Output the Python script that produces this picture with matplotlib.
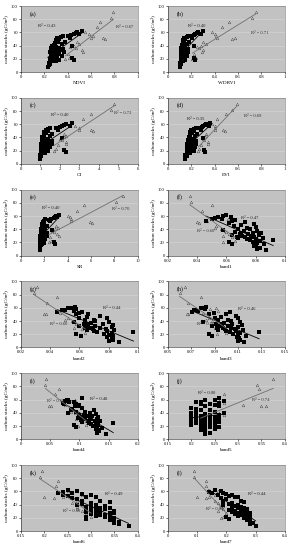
import numpy as np
import matplotlib
matplotlib.use("Agg")
import matplotlib.pyplot as plt

plt.rcParams['font.family'] = ['Liberation Serif', 'DejaVu Serif']

# carbon stocks (gC/m2), shared by all panels
black_y = [62, 60, 59, 58, 57, 56, 55, 54, 53, 52, 51, 50, 48, 46, 45, 44, 42, 41, 40, 39,
           38, 37, 36, 35, 35, 34, 33, 33, 32, 31, 30, 30, 29, 28, 28, 27, 26, 25, 25, 24,
           23, 22, 21, 20, 19, 18, 17, 16, 14, 12, 10, 8]
gray_y = [91, 82, 76, 68, 60, 58, 55, 52, 51, 50, 45, 42, 40, 38, 36, 33, 30, 28, 22, 20]

ndvi_b = [0.52, 0.48, 0.47, 0.50, 0.45, 0.43, 0.36, 0.40, 0.34, 0.42, 0.31, 0.33, 0.30, 0.32, 0.38, 0.29, 0.35, 0.28, 0.27, 0.44,
          0.30, 0.33, 0.26, 0.31, 0.36, 0.29, 0.34, 0.27, 0.32, 0.30, 0.25, 0.37, 0.28, 0.33, 0.26, 0.30, 0.27, 0.35, 0.29, 0.26,
          0.31, 0.28, 0.44, 0.25, 0.33, 0.45, 0.30, 0.27, 0.24, 0.25, 0.24, 0.23]
ndvi_g = [0.79, 0.77, 0.68, 0.65, 0.55, 0.58, 0.62, 0.60, 0.70, 0.72, 0.48, 0.50, 0.45, 0.42, 0.47, 0.52, 0.53, 0.40, 0.41, 0.38]

wdrvi_b = [0.30, 0.26, 0.25, 0.28, 0.23, 0.22, 0.17, 0.20, 0.16, 0.21, 0.14, 0.15, 0.13, 0.14, 0.18, 0.13, 0.16, 0.12, 0.12, 0.22,
           0.13, 0.15, 0.11, 0.14, 0.17, 0.13, 0.15, 0.12, 0.14, 0.13, 0.11, 0.17, 0.12, 0.15, 0.11, 0.13, 0.12, 0.16, 0.13, 0.11,
           0.14, 0.12, 0.22, 0.11, 0.15, 0.23, 0.13, 0.12, 0.10, 0.11, 0.10, 0.10]
wdrvi_g = [0.75, 0.72, 0.52, 0.46, 0.38, 0.40, 0.41, 0.42, 0.57, 0.55, 0.30, 0.33, 0.28, 0.25, 0.27, 0.30, 0.29, 0.22, 0.24, 0.21]

ci_b = [2.6, 2.3, 2.2, 2.5, 2.1, 2.0, 1.5, 1.8, 1.4, 1.9, 1.3, 1.4, 1.2, 1.3, 1.6, 1.2, 1.5, 1.2, 1.1, 2.1,
        1.2, 1.4, 1.1, 1.3, 1.6, 1.2, 1.4, 1.1, 1.3, 1.2, 1.05, 1.6, 1.15, 1.4, 1.1, 1.25, 1.1, 1.5, 1.2, 1.05,
        1.3, 1.15, 2.2, 1.05, 1.4, 2.3, 1.25, 1.1, 1.0, 1.05, 1.0, 0.98]
ci_g = [4.8, 4.6, 3.6, 3.2, 2.5, 2.8, 3.0, 3.0, 3.6, 3.7, 2.2, 2.3, 2.2, 2.0, 2.1, 2.3, 2.3, 1.9, 1.8, 1.7]

evi_b = [0.36, 0.33, 0.32, 0.35, 0.30, 0.29, 0.24, 0.27, 0.22, 0.28, 0.20, 0.22, 0.19, 0.21, 0.25, 0.19, 0.23, 0.18, 0.18, 0.30,
         0.19, 0.22, 0.17, 0.20, 0.24, 0.19, 0.22, 0.17, 0.21, 0.19, 0.16, 0.24, 0.18, 0.22, 0.17, 0.19, 0.17, 0.23, 0.19, 0.16,
         0.20, 0.18, 0.31, 0.16, 0.22, 0.32, 0.19, 0.17, 0.15, 0.16, 0.15, 0.15]
evi_g = [0.59, 0.55, 0.50, 0.42, 0.38, 0.40, 0.40, 0.40, 0.47, 0.49, 0.33, 0.33, 0.32, 0.30, 0.31, 0.34, 0.34, 0.28, 0.27, 0.26]

sr_b = [3.3, 3.0, 2.9, 3.1, 2.8, 2.6, 2.1, 2.4, 2.0, 2.5, 1.9, 2.0, 1.8, 1.9, 2.2, 1.8, 2.1, 1.75, 1.7, 2.7,
        1.8, 2.0, 1.7, 1.9, 2.2, 1.8, 2.0, 1.7, 1.9, 1.8, 1.65, 2.2, 1.75, 2.0, 1.7, 1.85, 1.7, 2.1, 1.8, 1.65,
        1.9, 1.75, 2.8, 1.65, 2.0, 2.9, 1.8, 1.7, 1.6, 1.65, 1.6, 1.6]
sr_g = [8.7, 8.1, 5.4, 4.8, 4.0, 4.2, 4.3, 4.3, 5.9, 6.1, 3.0, 3.2, 2.9, 2.7, 2.8, 3.1, 3.3, 2.5, 2.6, 2.4]

band1_b = [0.060, 0.058, 0.054, 0.063, 0.052, 0.050, 0.057, 0.066, 0.046, 0.064, 0.073, 0.062, 0.079, 0.070, 0.065, 0.080, 0.074, 0.068, 0.076, 0.058,
           0.081, 0.072, 0.066, 0.078, 0.070, 0.084, 0.069, 0.075, 0.064, 0.082, 0.071, 0.077, 0.067, 0.079, 0.073, 0.085, 0.068, 0.074, 0.080, 0.092,
           0.076, 0.083, 0.062, 0.078, 0.081, 0.064, 0.086, 0.080, 0.079, 0.083, 0.081, 0.087]
band1_g = [0.035, 0.036, 0.050, 0.043, 0.058, 0.054, 0.061, 0.047, 0.040, 0.041, 0.053, 0.052, 0.056, 0.059, 0.060, 0.062, 0.058, 0.064, 0.066, 0.058]

band2_b = [0.057, 0.055, 0.052, 0.058, 0.050, 0.048, 0.056, 0.062, 0.045, 0.060, 0.066, 0.058, 0.074, 0.065, 0.060, 0.079, 0.070, 0.064, 0.071, 0.056,
           0.080, 0.068, 0.063, 0.076, 0.066, 0.083, 0.066, 0.071, 0.060, 0.082, 0.068, 0.074, 0.064, 0.078, 0.069, 0.084, 0.065, 0.070, 0.079, 0.097,
           0.072, 0.082, 0.058, 0.077, 0.080, 0.061, 0.083, 0.079, 0.082, 0.083, 0.080, 0.087]
band2_g = [0.031, 0.029, 0.045, 0.038, 0.056, 0.050, 0.058, 0.047, 0.037, 0.036, 0.052, 0.050, 0.055, 0.057, 0.058, 0.060, 0.056, 0.062, 0.064, 0.058]

band3_b = [0.083, 0.080, 0.078, 0.082, 0.073, 0.072, 0.076, 0.103, 0.071, 0.089, 0.100, 0.085, 0.108, 0.095, 0.090, 0.110, 0.101, 0.093, 0.104, 0.080,
           0.112, 0.098, 0.091, 0.105, 0.096, 0.113, 0.094, 0.101, 0.088, 0.110, 0.097, 0.104, 0.092, 0.107, 0.099, 0.114, 0.093, 0.100, 0.108, 0.128,
           0.103, 0.112, 0.085, 0.106, 0.110, 0.088, 0.117, 0.109, 0.111, 0.112, 0.110, 0.115]
band3_g = [0.065, 0.060, 0.078, 0.067, 0.091, 0.086, 0.093, 0.080, 0.067, 0.066, 0.085, 0.083, 0.088, 0.092, 0.094, 0.096, 0.090, 0.098, 0.100, 0.092]

band4_b = [0.105, 0.078, 0.080, 0.076, 0.082, 0.090, 0.072, 0.095, 0.074, 0.100, 0.098, 0.092, 0.105, 0.088, 0.085, 0.125, 0.110, 0.095, 0.118, 0.080,
           0.128, 0.108, 0.100, 0.122, 0.112, 0.132, 0.105, 0.118, 0.098, 0.130, 0.110, 0.120, 0.102, 0.126, 0.114, 0.135, 0.104, 0.116, 0.128, 0.158,
           0.120, 0.132, 0.090, 0.124, 0.130, 0.095, 0.138, 0.128, 0.132, 0.134, 0.130, 0.145]
band4_g = [0.043, 0.042, 0.065, 0.058, 0.092, 0.085, 0.095, 0.075, 0.048, 0.052, 0.088, 0.085, 0.092, 0.097, 0.100, 0.104, 0.095, 0.108, 0.112, 0.098]

band5_b = [0.26, 0.25, 0.23, 0.27, 0.21, 0.22, 0.26, 0.24, 0.22, 0.25, 0.23, 0.26, 0.20, 0.21, 0.24, 0.22, 0.25, 0.21, 0.20, 0.27,
           0.23, 0.24, 0.26, 0.21, 0.22, 0.25, 0.20, 0.23, 0.24, 0.21, 0.22, 0.26, 0.24, 0.23, 0.20, 0.25, 0.26, 0.24, 0.22, 0.21,
           0.23, 0.25, 0.20, 0.22, 0.24, 0.26, 0.23, 0.25, 0.22, 0.23, 0.24, 0.23]
band5_g = [0.375, 0.34, 0.345, 0.27, 0.25, 0.26, 0.27, 0.31, 0.36, 0.35, 0.24, 0.25, 0.26, 0.23, 0.27, 0.24, 0.22, 0.25, 0.23, 0.24]

band6_b = [0.25, 0.27, 0.24, 0.23, 0.26, 0.28, 0.30, 0.24, 0.25, 0.31, 0.29, 0.26, 0.27, 0.32, 0.28, 0.34, 0.30, 0.28, 0.31, 0.27,
           0.33, 0.29, 0.30, 0.34, 0.32, 0.33, 0.30, 0.31, 0.29, 0.35, 0.30, 0.32, 0.29, 0.34, 0.31, 0.35, 0.30, 0.32, 0.34, 0.33,
           0.31, 0.33, 0.29, 0.34, 0.35, 0.29, 0.35, 0.34, 0.36, 0.35, 0.36, 0.38]
band6_g = [0.195, 0.19, 0.23, 0.225, 0.25, 0.26, 0.28, 0.24, 0.20, 0.22, 0.27, 0.26, 0.28, 0.29, 0.27, 0.27, 0.28, 0.29, 0.30, 0.29]

band7_b = [0.16, 0.18, 0.14, 0.19, 0.15, 0.20, 0.22, 0.17, 0.21, 0.23, 0.24, 0.18, 0.20, 0.25, 0.19, 0.26, 0.22, 0.21, 0.24, 0.19,
           0.23, 0.25, 0.22, 0.26, 0.24, 0.25, 0.22, 0.27, 0.21, 0.26, 0.23, 0.25, 0.22, 0.27, 0.24, 0.28, 0.23, 0.25, 0.26, 0.28,
           0.24, 0.27, 0.20, 0.28, 0.26, 0.21, 0.27, 0.28, 0.28, 0.29, 0.28, 0.30]
band7_g = [0.09, 0.09, 0.13, 0.13, 0.17, 0.15, 0.16, 0.14, 0.10, 0.13, 0.16, 0.17, 0.18, 0.19, 0.18, 0.19, 0.17, 0.20, 0.19, 0.18]

# panel: letter, x label, black x, gray x, x ticks, R2 black, R2 gray, R2 text positions
panels = [
    ("(a)", "NDVI", ndvi_b, ndvi_g, [0, 0.2, 0.4, 0.6, 0.8, 1], "0.43", "0.67", (0.15, 68), (0.81, 66)),
    ("(b)", "WDRVI", wdrvi_b, wdrvi_g, [0, 0.2, 0.4, 0.6, 0.8, 1], "0.40", "0.71", (0.17, 69), (0.71, 57)),
    ("(c)", "CI", ci_b, ci_g, [0, 1, 2, 3, 4, 5, 6], "0.40", "0.72", (1.55, 72), (4.8, 76)),
    ("(d)", "EVI", evi_b, evi_g, [0, 0.2, 0.4, 0.6, 0.8, 1], "0.35", "0.69", (0.16, 67), (0.65, 71)),
    ("(e)", "SR", sr_b, sr_g, [0, 2, 4, 6, 8, 10], "0.40", "0.70", (1.8, 71), (7.8, 69)),
    ("(f)", "band1", band1_b, band1_g, [0.02, 0.04, 0.06, 0.08, 0.1], "0.47", "0.60", (0.070, 56), (0.040, 36)),
    ("(g)", "band2", band2_b, band2_g, [0.02, 0.04, 0.06, 0.08, 0.1], "0.44", "0.60", (0.076, 58), (0.040, 34)),
    ("(h)", "band3", band3_b, band3_g, [0.05, 0.07, 0.09, 0.11, 0.13, 0.15], "0.46", "0.56", (0.110, 57), (0.075, 34)),
    ("(i)", "band4", band4_b, band4_g, [0, 0.05, 0.1, 0.15, 0.2], "0.48", "0.60", (0.118, 59), (0.045, 56)),
    ("(j)", "band5", band5_b, band5_g, [0.15, 0.2, 0.25, 0.3, 0.35, 0.4], "0.00", "0.74", (0.215, 69), (0.33, 58)),
    ("(k)", "band6", band6_b, band6_g, [0.15, 0.2, 0.25, 0.3, 0.35, 0.4], "0.49", "0.59", (0.33, 55), (0.24, 29)),
    ("(l)", "band7", band7_b, band7_g, [0, 0.1, 0.2, 0.3, 0.4], "0.44", "0.64", (0.275, 54), (0.13, 32)),
]

fig = plt.figure(figsize=(2.94, 5.5), dpi=100)

for i, (lab, xlab, xb, xg, xt, rb, rg, pb, pg) in enumerate(panels):
    row, col = i // 2, i % 2
    left = 0.071 if col == 0 else 0.571
    bottom = 0.869 - row * 0.1669
    ax = fig.add_axes([left, bottom, 0.398, 0.12])
    ax.set_facecolor('#c2c2c2')
    ax.set_xlim(xt[0], xt[-1])
    ax.set_ylim(0, 100)
    ax.set_xticks(xt)
    ax.set_xticklabels([("%g" % t) for t in xt])
    ax.set_yticks([0, 20, 40, 60, 80, 100])
    ax.grid(axis='y', color='#d6d6d6', lw=0.4)
    ax.set_axisbelow(True)
    ax.tick_params(labelsize=3.3, length=1.2, width=0.4, pad=1)
    for s in ax.spines.values():
        s.set_linewidth(0.4)
        s.set_color('#707070')
    ax.spines['left'].set_color('#202020')
    ax.spines['bottom'].set_color('#202020')

    xb = np.array(xb)
    xg = np.array(xg)
    # gray group
    ax.scatter(xg, gray_y, s=3.5, marker='^', facecolor='#dcdcdc', edgecolor='#4a4a4a', lw=0.35, zorder=3)
    # black group
    ax.scatter(xb, black_y, s=5, marker='s', color='black', lw=0, zorder=4)

    k, c = np.polyfit(xb, black_y, 1)
    xx = np.array([xb.min(), xb.max()])
    ax.plot(xx, k * xx + c, color='black', lw=0.6, zorder=5)
    k, c = np.polyfit(xg, gray_y, 1)
    xx = np.array([xg.min(), xg.max()])
    ax.plot(xx, k * xx + c, color='#6f6f6f', lw=0.6, zorder=5)

    ax.text(pb[0], pb[1], "R² = " + rb, fontsize=3.3, color='#202020', zorder=6)
    ax.text(pg[0], pg[1], "R² = " + rg, fontsize=3.3, color='#303030', zorder=6)
    ax.text(0.08, 0.86, lab, transform=ax.transAxes, fontsize=4.3, zorder=6)

    ax.set_xlabel(xlab, fontsize=3.7, labelpad=1.5)
    ax.set_ylabel("carbon stocks (gC/m²)", fontsize=3.9, labelpad=1.5)

fig.savefig("out.png", dpi=100)
